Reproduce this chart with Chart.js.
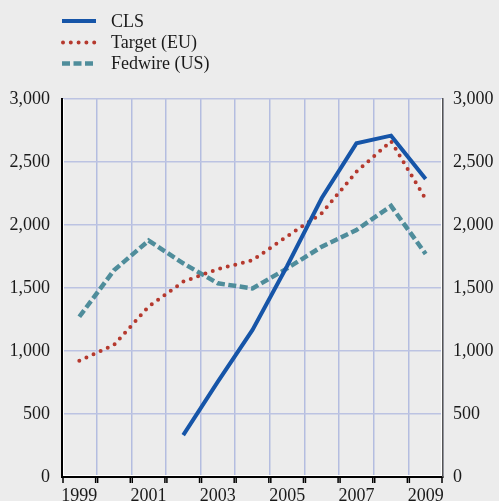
<!DOCTYPE html>
<html>
<head>
<meta charset="utf-8">
<script src="https://cdn.jsdelivr.net/npm/chart.js@4"></script>
<style>
html,body{margin:0;padding:0;background:#ececec;}
canvas{display:block;}
</style>
</head>
<body>
<canvas id="c" width="499" height="501"></canvas>
<script>
const years = ['1999','2000','2001','2002','2003','2004','2005','2006','2007','2008','2009'];
const yearLabels = ['1999','','2001','','2003','','2005','','2007','','2009'];
const clsValues = [null,null,null,333,757,1167,1675,2214,2648,2709,2365];
const targetValues = [923,1048,1352,1550,1650,1720,1910,2093,2423,2665,2206];
const fedwireValues = [1272,1640,1876,1696,1537,1497,1656,1828,1960,2151,1770];
const yTicks = [0,500,1000,1500,2000,2500,3000];

const FONT = "'Liberation Serif', 'Times New Roman', serif";

const bgPlugin = {
  id: 'bg',
  beforeDraw(chart) {
    const ctx = chart.ctx;
    ctx.save();
    ctx.fillStyle = '#ececec';
    ctx.fillRect(0, 0, chart.width, chart.height);
    ctx.restore();
  }
};

const axisDecorPlugin = {
  id: 'axisDecor',
  afterDraw(chart) {
    const ctx = chart.ctx;
    const a = chart.chartArea;
    const xs = chart.scales.x;
    ctx.save();
    // white highlight lines next to axes
    ctx.fillStyle = '#ffffff';
    ctx.fillRect(Math.round(a.left) + 1, Math.round(a.top), 1, Math.round(a.bottom - a.top) - 1);
    ctx.fillRect(Math.round(a.left) + 1, Math.round(a.bottom) - 2, Math.round(a.right - a.left) - 2, 1);
    ctx.fillRect(Math.round(a.right) - 2, Math.round(a.top), 1, Math.round(a.bottom - a.top) - 1);
    // bracket ticks for each category
    const half = (xs.getPixelForValue(1) - xs.getPixelForValue(0)) / 2;
    ctx.strokeStyle = '#000';
    ctx.lineWidth = 1.5;
    for (let i = 0; i < years.length; i++) {
      const c = xs.getPixelForValue(i);
      [c - half + 1, c + half - 1].forEach(px => {
        ctx.beginPath();
        ctx.moveTo(px, a.bottom);
        ctx.lineTo(px, a.bottom + 6);
        ctx.stroke();
      });
    }
    ctx.restore();
  }
};

const legendPlugin = {
  id: 'vlegend',
  afterDraw(chart) {
    const ctx = chart.ctx;
    const ys = [21, 42.5, 63.5];
    chart.data.datasets.forEach((ds, i) => {
      const y = ys[i];
      ctx.save();
      ctx.strokeStyle = ds.borderColor;
      ctx.lineWidth = ds.borderWidth;
      ctx.lineCap = ds.borderCapStyle || 'butt';
      ctx.setLineDash(ds.borderDash || []);
      ctx.beginPath();
      if (i === 1) { ctx.moveTo(63, y); ctx.lineTo(96, y); }
      else { ctx.moveTo(62, y); ctx.lineTo(96, y); }
      ctx.stroke();
      ctx.restore();
      ctx.save();
      ctx.fillStyle = '#1a1a1a';
      ctx.font = "18px " + FONT;
      ctx.textBaseline = 'middle';
      ctx.fillText(ds.label, 111, y + 1);
      ctx.restore();
    });
  }
};

new Chart(document.getElementById('c'), {
  type: 'line',
  data: {
    labels: years,
    datasets: [
      { label: 'CLS', data: clsValues, borderColor: '#1655a8', borderWidth: 4, pointRadius: 0, tension: 0, spanGaps: false, yAxisID: 'y' },
      { label: 'Target (EU)', data: targetValues, borderColor: '#b5392e', borderWidth: 4, borderDash: [0, 7.8], borderCapStyle: 'round', pointRadius: 0, tension: 0, yAxisID: 'y' },
      { label: 'Fedwire (US)', data: fedwireValues, borderColor: '#4f8d9b', borderWidth: 4.5, borderDash: [8, 3.5], pointRadius: 0, tension: 0, yAxisID: 'y' }
    ]
  },
  options: {
    responsive: false,
    animation: false,
    devicePixelRatio: 1,
    layout: { padding: { top: 99, left: 0, right: 0, bottom: 0 } },
    plugins: { legend: { display: false }, tooltip: { enabled: false } },
    scales: {
      x: {
        type: 'category',
        offset: true,
        grid: { offset: true, color: '#b4bde0', lineWidth: 1.5, drawTicks: true, tickLength: 6, tickColor: 'rgba(0,0,0,0)', tickWidth: 1.5 },
        border: { color: '#000', width: 2 },
        ticks: {
          autoSkip: false, maxRotation: 0, padding: 2,
          color: '#1a1a1a', font: { family: FONT, size: 18 },
          callback: (v, i) => yearLabels[i]
        },
        afterFit(scale) { scale.height = 24; }
      },
      y: {
        position: 'left', min: 0, max: 3000,
        afterBuildTicks(scale) { scale.ticks = yTicks.map(v => ({ value: v })); },
        grid: { color: '#bcc3e2', lineWidth: 1.5, drawTicks: false },
        border: { color: '#000', width: 2 },
        ticks: { padding: 12, color: '#1a1a1a', font: { family: FONT, size: 18 }, callback: v => v.toLocaleString('en-US') },
        afterFit(scale) { scale.width = 62; }
      },
      y2: {
        position: 'right', min: 0, max: 3000,
        afterBuildTicks(scale) { scale.ticks = yTicks.map(v => ({ value: v })); },
        grid: { drawOnChartArea: false, drawTicks: false },
        border: { color: '#555', width: 1.5 },
        ticks: { padding: 10, color: '#1a1a1a', font: { family: FONT, size: 18 }, callback: v => v.toLocaleString('en-US') },
        afterFit(scale) { scale.width = 56; }
      }
    }
  },
  plugins: [bgPlugin, axisDecorPlugin, legendPlugin]
});
</script>
</body>
</html>
